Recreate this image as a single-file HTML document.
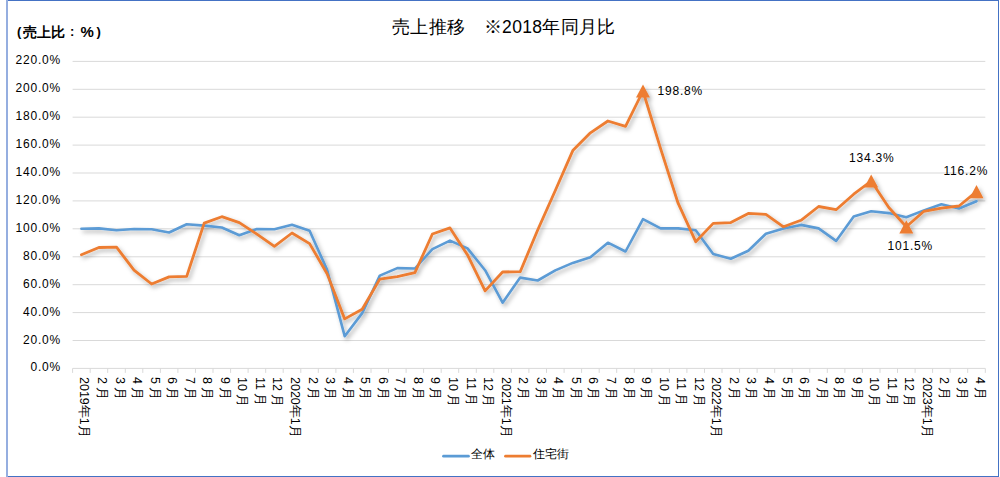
<!DOCTYPE html>
<html><head><meta charset="utf-8"><style>
html,body{margin:0;padding:0;background:#fff;}
body{width:1000px;height:477px;position:relative;overflow:hidden;font-family:"Liberation Sans",sans-serif;color:#000;}
.frame{position:absolute;left:8px;top:0;width:990px;height:475px;border:1px solid #4472c4;border-left:none;}
.lb{position:absolute;left:6px;top:0;width:2px;height:477px;background:#95aee0;}
svg{position:absolute;left:0;top:0;}
.title{position:absolute;left:392px;top:15px;font-size:17.5px;letter-spacing:0.35px;white-space:nowrap;}
.unit{position:absolute;left:10px;top:24px;font-size:13px;font-weight:bold;letter-spacing:1.5px;white-space:nowrap;}
.yl{position:absolute;right:939px;font-size:12px;line-height:16px;letter-spacing:0.8px;white-space:nowrap;}
.xl{position:absolute;top:376.5px;font-size:12.5px;line-height:12px;transform-origin:0 0;transform:rotate(90deg);white-space:nowrap;}
.dl{position:absolute;font-size:12px;line-height:14px;letter-spacing:0.8px;white-space:nowrap;}
.lg{position:absolute;top:447px;font-size:11.5px;line-height:14px;white-space:nowrap;}
</style></head><body>
<div class="frame"></div><div class="lb"></div>
<svg width="1000" height="477" viewBox="0 0 1000 477">
<defs><filter id="sh" x="-5%" y="-5%" width="110%" height="120%"><feDropShadow dx="2.2" dy="2.6" stdDeviation="2.1" flood-color="#000" flood-opacity="0.3"/></filter></defs>
<line x1="72.6" y1="340.5" x2="985.3" y2="340.5" stroke="#d9d9d9" stroke-width="1"/>
<line x1="72.6" y1="312.6" x2="985.3" y2="312.6" stroke="#d9d9d9" stroke-width="1"/>
<line x1="72.6" y1="284.7" x2="985.3" y2="284.7" stroke="#d9d9d9" stroke-width="1"/>
<line x1="72.6" y1="256.8" x2="985.3" y2="256.8" stroke="#d9d9d9" stroke-width="1"/>
<line x1="72.6" y1="228.8" x2="985.3" y2="228.8" stroke="#d9d9d9" stroke-width="1"/>
<line x1="72.6" y1="200.9" x2="985.3" y2="200.9" stroke="#d9d9d9" stroke-width="1"/>
<line x1="72.6" y1="173.0" x2="985.3" y2="173.0" stroke="#d9d9d9" stroke-width="1"/>
<line x1="72.6" y1="145.1" x2="985.3" y2="145.1" stroke="#d9d9d9" stroke-width="1"/>
<line x1="72.6" y1="117.2" x2="985.3" y2="117.2" stroke="#d9d9d9" stroke-width="1"/>
<line x1="72.6" y1="89.3" x2="985.3" y2="89.3" stroke="#d9d9d9" stroke-width="1"/>
<line x1="72.6" y1="61.4" x2="985.3" y2="61.4" stroke="#d9d9d9" stroke-width="1"/>
<line x1="72.6" y1="368.4" x2="985.3" y2="368.4" stroke="#d9d9d9" stroke-width="1"/>
<line x1="72.6" y1="368.4" x2="72.6" y2="372.9" stroke="#d9d9d9" stroke-width="1"/>
<line x1="90.2" y1="368.4" x2="90.2" y2="372.9" stroke="#d9d9d9" stroke-width="1"/>
<line x1="107.7" y1="368.4" x2="107.7" y2="372.9" stroke="#d9d9d9" stroke-width="1"/>
<line x1="125.3" y1="368.4" x2="125.3" y2="372.9" stroke="#d9d9d9" stroke-width="1"/>
<line x1="142.8" y1="368.4" x2="142.8" y2="372.9" stroke="#d9d9d9" stroke-width="1"/>
<line x1="160.4" y1="368.4" x2="160.4" y2="372.9" stroke="#d9d9d9" stroke-width="1"/>
<line x1="177.9" y1="368.4" x2="177.9" y2="372.9" stroke="#d9d9d9" stroke-width="1"/>
<line x1="195.5" y1="368.4" x2="195.5" y2="372.9" stroke="#d9d9d9" stroke-width="1"/>
<line x1="213.0" y1="368.4" x2="213.0" y2="372.9" stroke="#d9d9d9" stroke-width="1"/>
<line x1="230.6" y1="368.4" x2="230.6" y2="372.9" stroke="#d9d9d9" stroke-width="1"/>
<line x1="248.1" y1="368.4" x2="248.1" y2="372.9" stroke="#d9d9d9" stroke-width="1"/>
<line x1="265.7" y1="368.4" x2="265.7" y2="372.9" stroke="#d9d9d9" stroke-width="1"/>
<line x1="283.2" y1="368.4" x2="283.2" y2="372.9" stroke="#d9d9d9" stroke-width="1"/>
<line x1="300.8" y1="368.4" x2="300.8" y2="372.9" stroke="#d9d9d9" stroke-width="1"/>
<line x1="318.3" y1="368.4" x2="318.3" y2="372.9" stroke="#d9d9d9" stroke-width="1"/>
<line x1="335.9" y1="368.4" x2="335.9" y2="372.9" stroke="#d9d9d9" stroke-width="1"/>
<line x1="353.4" y1="368.4" x2="353.4" y2="372.9" stroke="#d9d9d9" stroke-width="1"/>
<line x1="371.0" y1="368.4" x2="371.0" y2="372.9" stroke="#d9d9d9" stroke-width="1"/>
<line x1="388.5" y1="368.4" x2="388.5" y2="372.9" stroke="#d9d9d9" stroke-width="1"/>
<line x1="406.1" y1="368.4" x2="406.1" y2="372.9" stroke="#d9d9d9" stroke-width="1"/>
<line x1="423.6" y1="368.4" x2="423.6" y2="372.9" stroke="#d9d9d9" stroke-width="1"/>
<line x1="441.2" y1="368.4" x2="441.2" y2="372.9" stroke="#d9d9d9" stroke-width="1"/>
<line x1="458.7" y1="368.4" x2="458.7" y2="372.9" stroke="#d9d9d9" stroke-width="1"/>
<line x1="476.3" y1="368.4" x2="476.3" y2="372.9" stroke="#d9d9d9" stroke-width="1"/>
<line x1="493.8" y1="368.4" x2="493.8" y2="372.9" stroke="#d9d9d9" stroke-width="1"/>
<line x1="511.4" y1="368.4" x2="511.4" y2="372.9" stroke="#d9d9d9" stroke-width="1"/>
<line x1="528.9" y1="368.4" x2="528.9" y2="372.9" stroke="#d9d9d9" stroke-width="1"/>
<line x1="546.5" y1="368.4" x2="546.5" y2="372.9" stroke="#d9d9d9" stroke-width="1"/>
<line x1="564.1" y1="368.4" x2="564.1" y2="372.9" stroke="#d9d9d9" stroke-width="1"/>
<line x1="581.6" y1="368.4" x2="581.6" y2="372.9" stroke="#d9d9d9" stroke-width="1"/>
<line x1="599.2" y1="368.4" x2="599.2" y2="372.9" stroke="#d9d9d9" stroke-width="1"/>
<line x1="616.7" y1="368.4" x2="616.7" y2="372.9" stroke="#d9d9d9" stroke-width="1"/>
<line x1="634.3" y1="368.4" x2="634.3" y2="372.9" stroke="#d9d9d9" stroke-width="1"/>
<line x1="651.8" y1="368.4" x2="651.8" y2="372.9" stroke="#d9d9d9" stroke-width="1"/>
<line x1="669.4" y1="368.4" x2="669.4" y2="372.9" stroke="#d9d9d9" stroke-width="1"/>
<line x1="686.9" y1="368.4" x2="686.9" y2="372.9" stroke="#d9d9d9" stroke-width="1"/>
<line x1="704.5" y1="368.4" x2="704.5" y2="372.9" stroke="#d9d9d9" stroke-width="1"/>
<line x1="722.0" y1="368.4" x2="722.0" y2="372.9" stroke="#d9d9d9" stroke-width="1"/>
<line x1="739.6" y1="368.4" x2="739.6" y2="372.9" stroke="#d9d9d9" stroke-width="1"/>
<line x1="757.1" y1="368.4" x2="757.1" y2="372.9" stroke="#d9d9d9" stroke-width="1"/>
<line x1="774.7" y1="368.4" x2="774.7" y2="372.9" stroke="#d9d9d9" stroke-width="1"/>
<line x1="792.2" y1="368.4" x2="792.2" y2="372.9" stroke="#d9d9d9" stroke-width="1"/>
<line x1="809.8" y1="368.4" x2="809.8" y2="372.9" stroke="#d9d9d9" stroke-width="1"/>
<line x1="827.3" y1="368.4" x2="827.3" y2="372.9" stroke="#d9d9d9" stroke-width="1"/>
<line x1="844.9" y1="368.4" x2="844.9" y2="372.9" stroke="#d9d9d9" stroke-width="1"/>
<line x1="862.4" y1="368.4" x2="862.4" y2="372.9" stroke="#d9d9d9" stroke-width="1"/>
<line x1="880.0" y1="368.4" x2="880.0" y2="372.9" stroke="#d9d9d9" stroke-width="1"/>
<line x1="897.5" y1="368.4" x2="897.5" y2="372.9" stroke="#d9d9d9" stroke-width="1"/>
<line x1="915.1" y1="368.4" x2="915.1" y2="372.9" stroke="#d9d9d9" stroke-width="1"/>
<line x1="932.6" y1="368.4" x2="932.6" y2="372.9" stroke="#d9d9d9" stroke-width="1"/>
<line x1="950.2" y1="368.4" x2="950.2" y2="372.9" stroke="#d9d9d9" stroke-width="1"/>
<line x1="967.7" y1="368.4" x2="967.7" y2="372.9" stroke="#d9d9d9" stroke-width="1"/>
<line x1="985.3" y1="368.4" x2="985.3" y2="372.9" stroke="#d9d9d9" stroke-width="1"/>
<g filter="url(#sh)"><polyline points="81.4,228.8 98.9,228.4 116.5,230.2 134.0,229.0 151.6,229.3 169.1,232.5 186.7,224.2 204.2,225.6 221.8,227.5 239.3,235.3 256.9,229.1 274.4,229.3 292.0,224.7 309.6,230.8 327.1,269.9 344.7,336.2 362.2,313.1 379.8,275.6 397.3,268.1 414.9,268.5 432.4,249.1 450.0,240.6 467.5,248.4 485.1,270.2 502.6,302.7 520.2,277.6 537.7,280.5 555.3,270.4 572.8,262.9 590.4,257.3 607.9,242.7 625.5,251.5 643.0,219.1 660.6,228.4 678.1,228.4 695.7,230.2 713.2,254.0 730.8,258.7 748.3,250.8 765.9,233.7 783.5,228.4 801.0,224.9 818.6,228.4 836.1,240.9 853.7,216.6 871.2,211.3 888.8,213.1 906.3,217.3 923.9,210.4 941.4,204.3 959.0,208.5 976.5,201.2" fill="none" stroke="#5b9bd5" stroke-width="2.6" stroke-linejoin="round" stroke-linecap="round"/>
<polyline points="81.4,254.8 98.9,247.5 116.5,247.1 134.0,270.2 151.6,284.0 169.1,276.9 186.7,276.4 204.2,223.1 221.8,216.7 239.3,222.6 256.9,234.2 274.4,246.4 292.0,233.0 309.6,243.6 327.1,273.8 344.7,318.9 362.2,309.2 379.8,279.1 397.3,276.6 414.9,272.7 432.4,234.0 450.0,227.9 467.5,254.9 485.1,290.9 502.6,272.0 520.2,271.7 537.7,230.0 555.3,190.5 572.8,150.6 590.4,132.8 607.9,121.0 625.5,126.4 643.0,91.0 660.6,148.6 678.1,203.2 695.7,241.7 713.2,223.4 730.8,222.6 748.3,213.4 765.9,214.3 783.5,226.8 801.0,220.3 818.6,206.5 836.1,209.7 853.7,194.2 871.2,181.0 888.8,207.5 906.3,226.8 923.9,211.3 941.4,208.1 959.0,206.0 976.5,191.7" fill="none" stroke="#ed7d31" stroke-width="2.8" stroke-linejoin="round" stroke-linecap="round"/>
<polygon points="643.0,84.4 650.0,97.6 636.0,97.6" fill="#ed7d31"/>
<polygon points="871.2,174.4 878.2,187.6 864.2,187.6" fill="#ed7d31"/>
<polygon points="906.3,220.2 913.3,233.4 899.3,233.4" fill="#ed7d31"/>
<polygon points="976.5,185.1 983.5,198.3 969.5,198.3" fill="#ed7d31"/>
</g>
<line x1="443.5" y1="456.2" x2="468.5" y2="456.2" stroke="#5b9bd5" stroke-width="2.7" stroke-linecap="round"/>
<line x1="505.5" y1="456.2" x2="530" y2="456.2" stroke="#ed7d31" stroke-width="2.7" stroke-linecap="round"/>
</svg>
<div class="title">売上推移　※2018年同月比</div>
<div class="unit" style="left:17px">(</div><div class="unit" style="left:23px;font-size:14px;top:23.5px;letter-spacing:0">売上比</div><div class="unit" style="left:70px">:</div><div class="unit" style="left:80.5px;font-size:15px;top:23px">%</div><div class="unit" style="left:96.5px">)</div>
<div class="yl" style="top:359.4px">0.0%</div>
<div class="yl" style="top:331.5px">20.0%</div>
<div class="yl" style="top:303.6px">40.0%</div>
<div class="yl" style="top:275.7px">60.0%</div>
<div class="yl" style="top:247.8px">80.0%</div>
<div class="yl" style="top:219.8px">100.0%</div>
<div class="yl" style="top:191.9px">120.0%</div>
<div class="yl" style="top:164.0px">140.0%</div>
<div class="yl" style="top:136.1px">160.0%</div>
<div class="yl" style="top:108.2px">180.0%</div>
<div class="yl" style="top:80.3px">200.0%</div>
<div class="yl" style="top:52.4px">220.0%</div>
<div class="xl" style="left:90.4px">2019年1月</div>
<div class="xl" style="left:107.9px">2 月</div>
<div class="xl" style="left:125.5px">3 月</div>
<div class="xl" style="left:143.0px">4 月</div>
<div class="xl" style="left:160.6px">5 月</div>
<div class="xl" style="left:178.1px">6 月</div>
<div class="xl" style="left:195.7px">7 月</div>
<div class="xl" style="left:213.2px">8 月</div>
<div class="xl" style="left:230.8px">9 月</div>
<div class="xl" style="left:248.3px">10 月</div>
<div class="xl" style="left:265.9px">11 月</div>
<div class="xl" style="left:283.4px">12 月</div>
<div class="xl" style="left:301.0px">2020年1月</div>
<div class="xl" style="left:318.6px">2 月</div>
<div class="xl" style="left:336.1px">3 月</div>
<div class="xl" style="left:353.7px">4 月</div>
<div class="xl" style="left:371.2px">5 月</div>
<div class="xl" style="left:388.8px">6 月</div>
<div class="xl" style="left:406.3px">7 月</div>
<div class="xl" style="left:423.9px">8 月</div>
<div class="xl" style="left:441.4px">9 月</div>
<div class="xl" style="left:459.0px">10 月</div>
<div class="xl" style="left:476.5px">11 月</div>
<div class="xl" style="left:494.1px">12 月</div>
<div class="xl" style="left:511.6px">2021年1月</div>
<div class="xl" style="left:529.2px">2 月</div>
<div class="xl" style="left:546.7px">3 月</div>
<div class="xl" style="left:564.3px">4 月</div>
<div class="xl" style="left:581.8px">5 月</div>
<div class="xl" style="left:599.4px">6 月</div>
<div class="xl" style="left:616.9px">7 月</div>
<div class="xl" style="left:634.5px">8 月</div>
<div class="xl" style="left:652.0px">9 月</div>
<div class="xl" style="left:669.6px">10 月</div>
<div class="xl" style="left:687.1px">11 月</div>
<div class="xl" style="left:704.7px">12 月</div>
<div class="xl" style="left:722.2px">2022年1月</div>
<div class="xl" style="left:739.8px">2 月</div>
<div class="xl" style="left:757.3px">3 月</div>
<div class="xl" style="left:774.9px">4 月</div>
<div class="xl" style="left:792.5px">5 月</div>
<div class="xl" style="left:810.0px">6 月</div>
<div class="xl" style="left:827.6px">7 月</div>
<div class="xl" style="left:845.1px">8 月</div>
<div class="xl" style="left:862.7px">9 月</div>
<div class="xl" style="left:880.2px">10 月</div>
<div class="xl" style="left:897.8px">11 月</div>
<div class="xl" style="left:915.3px">12 月</div>
<div class="xl" style="left:932.9px">2023年1月</div>
<div class="xl" style="left:950.4px">2 月</div>
<div class="xl" style="left:968.0px">3 月</div>
<div class="xl" style="left:985.5px">4 月</div>
<div class="dl" style="left:657.5px;top:84px">198.8%</div>
<div class="dl" style="left:849px;top:151px">134.3%</div>
<div class="dl" style="left:887.5px;top:238.5px">101.5%</div>
<div class="dl" style="left:943.5px;top:164px">116.2%</div>
<div class="lg" style="left:471px">全体</div>
<div class="lg" style="left:533px">住宅街</div>
</body></html>
